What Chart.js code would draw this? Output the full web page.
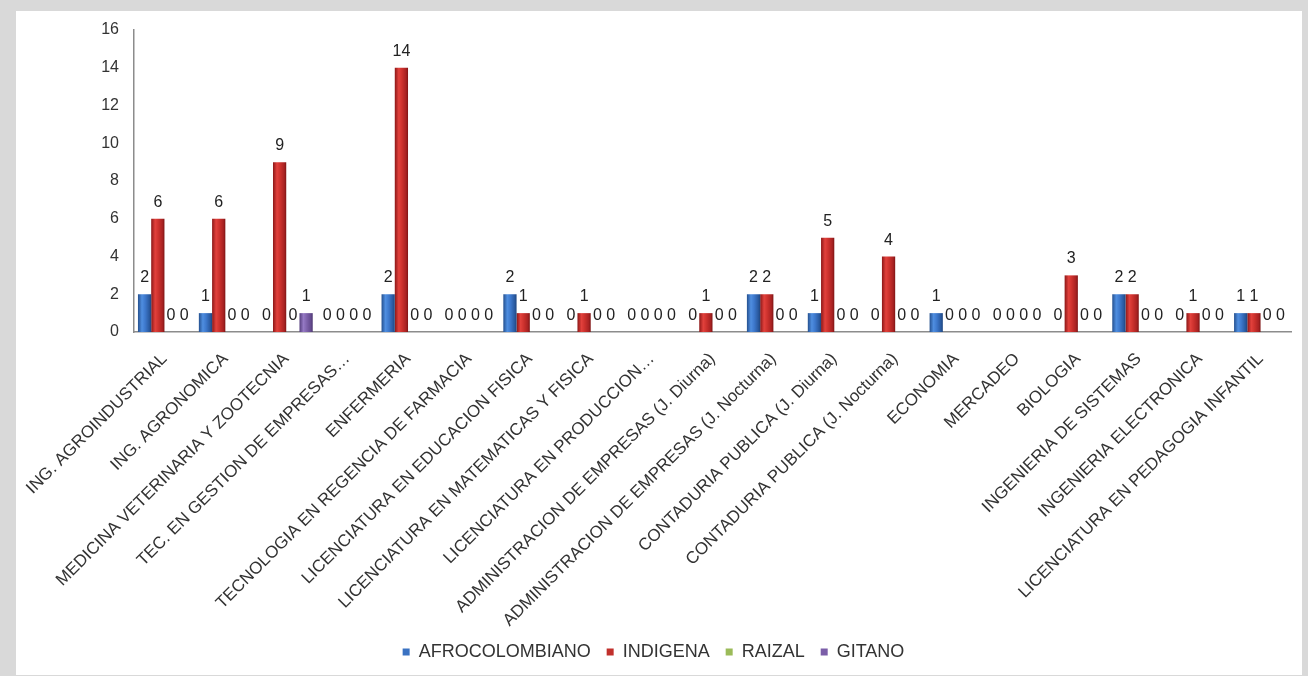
<!DOCTYPE html>
<html>
<head>
<meta charset="utf-8">
<title>Estudiantes por grupo étnico y programa</title>
<script src="https://cdn.jsdelivr.net/npm/chart.js@4/dist/chart.umd.min.js"></script>
<style>
  html, body { margin: 0; padding: 0; background: #d9d9d9; }
  body { width: 1308px; height: 676px; position: relative; overflow: hidden; }
  #panel { position: absolute; left: 16px; top: 11px; width: 1286px; height: 664px; background: #ffffff; overflow: hidden; }
  canvas { display: block; }
</style>
</head>
<body>
<div id="panel"><canvas id="grafico" width="1286" height="664"></canvas></div>
<script>
// Programas académicos (eje de categorías)
const programas = [
  'ING. AGROINDUSTRIAL',
  'ING. AGRONOMICA',
  'MEDICINA VETERINARIA Y ZOOTECNIA',
  'TEC. EN GESTION DE EMPRESAS…',
  'ENFERMERIA',
  'TECNOLOGIA EN REGENCIA DE FARMACIA',
  'LICENCIATURA EN EDUCACION FISICA',
  'LICENCIATURA EN MATEMATICAS Y FISICA',
  'LICENCIATURA EN PRODUCCION…',
  'ADMINISTRACION DE EMPRESAS (J. Diurna)',
  'ADMINISTRACION DE EMPRESAS (J. Nocturna)',
  'CONTADURIA PUBLICA (J. Diurna)',
  'CONTADURIA PUBLICA (J. Nocturna)',
  'ECONOMIA',
  'MERCADEO',
  'BIOLOGIA',
  'INGENIERIA DE SISTEMAS',
  'INGENIERIA ELECTRONICA',
  'LICENCIATURA EN PEDAGOGIA INFANTIL'
];

// Número de estudiantes por grupo étnico
const afrocolombiano = [2, 1, 0, 0, 2, 0, 2, 0, 0, 0, 2, 1, 0, 1, 0, 0, 2, 0, 1];
const indigena       = [6, 6, 9, 0, 14, 0, 1, 1, 0, 1, 2, 5, 4, 0, 0, 3, 2, 1, 1];
const raizal         = [0, 0, 0, 0, 0, 0, 0, 0, 0, 0, 0, 0, 0, 0, 0, 0, 0, 0, 0];
const gitano         = [0, 0, 1, 0, 0, 0, 0, 0, 0, 0, 0, 0, 0, 0, 0, 0, 0, 0, 0];

const series = ['AFROCOLOMBIANO', 'INDIGENA', 'RAIZAL', 'GITANO'];

// Escala vertical
const yMin = 0;
const yMax = 16;
const yStep = 2;

const FUENTE = '"Liberation Sans", Arial, sans-serif';

// Colores base y degradado tipo cilindro para cada serie
const colores = {
  AFROCOLOMBIANO: { base: '#3a72c2', stops: ['#24508f', '#4f8ee0', '#3d78cc', '#2a5aa0', '#1f4680'] },
  INDIGENA:       { base: '#c1302c', stops: ['#8c1717', '#e2413c', '#cc312d', '#a82222', '#7e1414'] },
  RAIZAL:         { base: '#9bbb59', stops: ['#6f8d36', '#b3d36f', '#9bbb59', '#84a444', '#667f30'] },
  GITANO:         { base: '#7b5ea8', stops: ['#553e7d', '#9579c4', '#7e62ab', '#654b8f', '#4d3772'] }
};

function dataset(label, data) {
  const c = colores[label];
  return {
    label,
    data,
    backgroundColor: () => c.base,
    borderWidth: 0,
    categoryPercentage: 0.87,
    barPercentage: 1.0
  };
}

// Tamaño fijo de los ejes, sin márgenes extra calculados por la escala
function fijarEje(ancho, alto) {
  return (s) => {
    if (ancho !== null) s.width = ancho;
    if (alto !== null) s.height = alto;
    s.paddingLeft = 0;
    s.paddingRight = 0;
    s.paddingTop = 0;
    s.paddingBottom = 0;
  };
}

// Relleno degradado horizontal de cada barra
const degradadoBarras = {
  id: 'degradadoBarras',
  beforeDatasetsDraw(chart) {
    const ctx = chart.ctx;
    chart.data.datasets.forEach((ds, di) => {
      const meta = chart.getDatasetMeta(di);
      const st = colores[ds.label].stops;
      meta.data.forEach((el) => {
        const { x, width } = el.getProps(['x', 'width'], true);
        const g = ctx.createLinearGradient(x - width / 2, 0, x + width / 2, 0);
        g.addColorStop(0, st[0]);
        g.addColorStop(0.3, st[1]);
        g.addColorStop(0.55, st[2]);
        g.addColorStop(0.85, st[3]);
        g.addColorStop(1, st[4]);
        try { el.options.backgroundColor = g; } catch (e) {}
      });
    });
  }
};

// Etiquetas de valor sobre cada barra
const etiquetasValor = {
  id: 'etiquetasValor',
  afterDatasetsDraw(chart) {
    const ctx = chart.ctx;
    ctx.save();
    ctx.font = '16px ' + FUENTE;
    ctx.fillStyle = '#222222';
    ctx.textAlign = 'center';
    ctx.textBaseline = 'alphabetic';
    chart.data.datasets.forEach((ds, di) => {
      const meta = chart.getDatasetMeta(di);
      meta.data.forEach((el, i) => {
        const { x, y } = el.getProps(['x', 'y'], true);
        ctx.fillText(String(ds.data[i]), x, y - 12);
      });
    });
    ctx.restore();
  }
};

new Chart(document.getElementById('grafico'), {
  type: 'bar',
  data: {
    labels: programas,
    datasets: [
      dataset(series[0], afrocolombiano),
      dataset(series[1], indigena),
      dataset(series[2], raizal),
      dataset(series[3], gitano)
    ]
  },
  options: {
    responsive: false,
    animation: false,
    devicePixelRatio: 1,
    layout: { padding: { top: 19, right: 11, bottom: 4, left: 0 } },
    plugins: {
      tooltip: { enabled: false },
      legend: {
        position: 'bottom',
        labels: {
          boxWidth: 7,
          boxHeight: 7,
          padding: 16,
          color: '#333333',
          font: { family: FUENTE, size: 18 }
        }
      }
    },
    scales: {
      x: {
        grid: { display: false, drawTicks: false },
        border: { display: true, color: '#8c8c8c', width: 1.5 },
        ticks: {
          autoSkip: false,
          maxRotation: 45,
          minRotation: 45,
          padding: 17,
          color: '#333333',
          font: { family: FUENTE, size: 17 }
        },
        afterFit: fijarEje(null, 295)
      },
      y: {
        min: yMin,
        max: yMax,
        grid: { display: false, drawTicks: false },
        border: { display: true, color: '#8c8c8c', width: 1.5 },
        ticks: {
          stepSize: yStep,
          padding: 15,
          color: '#333333',
          font: { family: FUENTE, size: 16 }
        },
        afterFit: fijarEje(118, null)
      }
    }
  },
  plugins: [degradadoBarras, etiquetasValor]
});
</script>
</body>
</html>
